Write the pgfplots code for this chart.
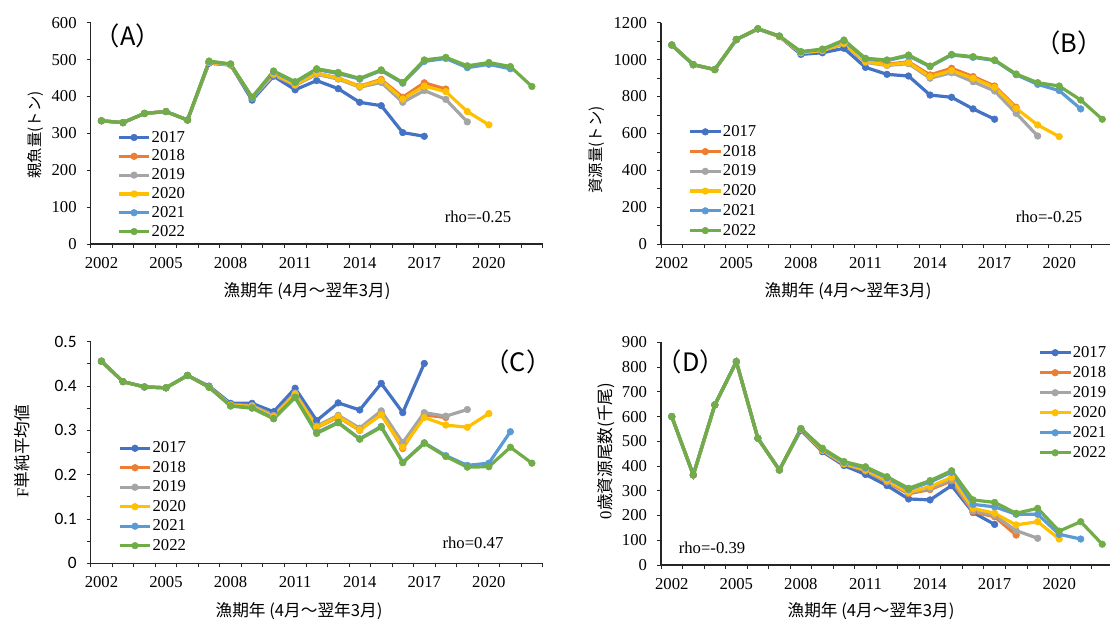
\documentclass[border=0pt]{standalone}
\usepackage{fontspec}
\setmainfont{Liberation Serif}
\newfontfamily\cjk{Noto Sans CJK JP}
\newfontfamily\calib{Carlito}
\usepackage{pgfplots}
\pgfplotsset{compat=1.18}

\definecolor{c17}{HTML}{4472C4}
\definecolor{c18}{HTML}{ED7D31}
\definecolor{c19}{HTML}{A5A5A5}
\definecolor{c20}{HTML}{FFC000}
\definecolor{c21}{HTML}{5B9BD5}
\definecolor{c22}{HTML}{70AD47}

\newcommand{\fs}{\fontsize{12.5}{14}\selectfont}
\newcommand{\xlab}{\cjk{漁期年} (4\cjk{月～翌年}3\cjk{月})}

\pgfplotsset{
  panel/.style={
    scale only axis, width=339pt, height=166pt,
    axis lines*=left,
    axis line style={line width=0.8pt, black!85},
    xmin=2001.5, xmax=2022.5,
    xtick={2002,2005,...,2020},
    xticklabels={2002,2005,2008,2011,2014,2017,2020},
    minor xtick={2001.5,2002.5,...,2022.5},
    major x tick style={draw=none},
    tick align=outside,
    tick style={line width=0.6pt, black!85},
    major tick length=3pt, minor tick length=3pt,
    ticklabel style={font=\fs},
    xticklabel style={yshift=-3.5pt},
    yticklabel style={xshift=-4pt},
    /pgf/number format/assume math mode=true,
    /pgf/number format/1000 sep={},
    clip=false,
    legend cell align=left,
    legend style={draw=none, fill=none, font=\fs, inner sep=0pt,
      nodes={inner sep=0.5pt}},
    legend image code/.code={\draw[mark repeat=2,mark phase=2,##1]
      plot coordinates {(0pt,0pt) (11.5pt,0pt) (23pt,0pt)};},
    cycle list={{c17},{c18},{c19},{c20},{c21},{c22}},
    every axis plot/.append style={line width=2.4pt, mark=*, mark size=2.5pt,
      mark options={solid, line width=0.4pt}},
  }
}

\begin{document}
\begin{tikzpicture}[x=0.75pt,y=0.75pt]
\path[use as bounding box] (0,0) rectangle (1110,620);
\clip (0,0) rectangle (1110,620);

% (A) spawning stock
\begin{axis}[panel, at={(68pt,282pt)}, anchor=south west,
  ymin=0, ymax=600, ytick={0,100,...,600},
  legend style={at={(0.058,0.515)}, anchor=north west, row sep=3.3pt}]
\addplot coordinates {(2002,334)(2003,329)(2004,354)(2005,359)(2006,336)(2007,490)(2008,485)(2009,390)(2010,455)(2011,418)(2012,443)(2013,421)(2014,384)(2015,375)(2016,302)(2017,292)};
\addplot coordinates {(2002,334)(2003,329)(2004,354)(2005,359)(2006,336)(2007,492)(2008,486)(2009,396)(2010,460)(2011,432)(2012,463)(2013,450)(2014,428)(2015,446)(2016,398)(2017,437)(2018,420)};
\addplot coordinates {(2002,334)(2003,329)(2004,354)(2005,359)(2006,336)(2007,492)(2008,486)(2009,395)(2010,458)(2011,430)(2012,460)(2013,447)(2014,425)(2015,438)(2016,384)(2017,416)(2018,392)(2019,331)};
\addplot coordinates {(2002,334)(2003,329)(2004,354)(2005,359)(2006,336)(2007,492)(2008,486)(2009,398)(2010,462)(2011,432)(2012,463)(2013,449)(2014,427)(2015,443)(2016,393)(2017,428)(2018,413)(2019,359)(2020,323)};
\addplot coordinates {(2002,334)(2003,329)(2004,354)(2005,359)(2006,336)(2007,494)(2008,488)(2009,396)(2010,467)(2011,438)(2012,473)(2013,462)(2014,447)(2015,470)(2016,436)(2017,495)(2018,503)(2019,478)(2020,487)(2021,475)};
\addplot coordinates {(2002,334)(2003,329)(2004,354)(2005,359)(2006,336)(2007,496)(2008,488)(2009,398)(2010,469)(2011,440)(2012,475)(2013,465)(2014,449)(2015,472)(2016,438)(2017,499)(2018,506)(2019,483)(2020,492)(2021,481)(2022,427)};
\legend{2017,2018,2019,2020,2021,2022}
\end{axis}

% (B) stock biomass
\begin{axis}[panel, at={(495.75pt,281.8pt)}, anchor=south west, height=166.2pt,
  ymin=0, ymax=1200, ytick={0,200,...,1200}, minor ytick={100,300,...,1100},
  legend style={at={(0.060,0.541)}, anchor=north west, row sep=4pt}]
\addplot coordinates {(2002,1079)(2003,972)(2004,946)(2005,1108)(2006,1166)(2007,1125)(2008,1028)(2009,1037)(2010,1061)(2011,958)(2012,920)(2013,911)(2014,808)(2015,796)(2016,733)(2017,677)};
\addplot coordinates {(2002,1079)(2003,972)(2004,946)(2005,1108)(2006,1166)(2007,1125)(2008,1038)(2009,1050)(2010,1090)(2011,992)(2012,975)(2013,988)(2014,917)(2015,953)(2016,908)(2017,857)(2018,742)};
\addplot coordinates {(2002,1079)(2003,972)(2004,946)(2005,1108)(2006,1166)(2007,1125)(2008,1036)(2009,1048)(2010,1085)(2011,985)(2012,968)(2013,978)(2014,899)(2015,929)(2016,880)(2017,830)(2018,709)(2019,586)};
\addplot coordinates {(2002,1079)(2003,972)(2004,946)(2005,1108)(2006,1166)(2007,1125)(2008,1038)(2009,1050)(2010,1088)(2011,989)(2012,971)(2013,983)(2014,908)(2015,940)(2016,899)(2017,850)(2018,736)(2019,646)(2020,583)};
\addplot coordinates {(2002,1079)(2003,972)(2004,946)(2005,1108)(2006,1166)(2007,1127)(2008,1042)(2009,1055)(2010,1102)(2011,1004)(2012,995)(2013,1020)(2014,962)(2015,1025)(2016,1012)(2017,995)(2018,918)(2019,866)(2020,832)(2021,733)};
\addplot coordinates {(2002,1079)(2003,974)(2004,946)(2005,1110)(2006,1168)(2007,1128)(2008,1043)(2009,1057)(2010,1106)(2011,1007)(2012,998)(2013,1025)(2014,965)(2015,1028)(2016,1016)(2017,998)(2018,922)(2019,875)(2020,857)(2021,781)(2022,677)};
\legend{2017,2018,2019,2020,2021,2022}
\end{axis}

% (C) mean F
\begin{axis}[panel, at={(68pt,42.5pt)}, anchor=south west, height=166.2pt,
  ymin=0, ymax=0.5, ytick={0,0.1,0.2,0.3,0.4,0.5},
  yticklabels={0,0.1,0.2,0.3,0.4,0.5},
  minor ytick={0.05,0.15,0.25,0.35,0.45},
  yticklabel style={font=\calib\fontsize{13}{14}\selectfont},
  legend style={at={(0.060,0.553)}, anchor=north west, row sep=3.8pt}]
\addplot coordinates {(2002,0.456)(2003,0.410)(2004,0.398)(2005,0.396)(2006,0.424)(2007,0.400)(2008,0.361)(2009,0.361)(2010,0.342)(2011,0.395)(2012,0.322)(2013,0.362)(2014,0.346)(2015,0.406)(2016,0.340)(2017,0.451)};
\addplot coordinates {(2002,0.456)(2003,0.410)(2004,0.398)(2005,0.396)(2006,0.424)(2007,0.398)(2008,0.357)(2009,0.355)(2010,0.333)(2011,0.382)(2012,0.306)(2013,0.330)(2014,0.300)(2015,0.338)(2016,0.259)(2017,0.335)(2018,0.329)};
\addplot coordinates {(2002,0.456)(2003,0.410)(2004,0.398)(2005,0.396)(2006,0.424)(2007,0.398)(2008,0.358)(2009,0.356)(2010,0.334)(2011,0.384)(2012,0.310)(2013,0.334)(2014,0.305)(2015,0.344)(2016,0.272)(2017,0.340)(2018,0.332)(2019,0.347)};
\addplot coordinates {(2002,0.456)(2003,0.410)(2004,0.398)(2005,0.396)(2006,0.424)(2007,0.398)(2008,0.357)(2009,0.354)(2010,0.331)(2011,0.382)(2012,0.307)(2013,0.331)(2014,0.301)(2015,0.335)(2016,0.262)(2017,0.329)(2018,0.312)(2019,0.307)(2020,0.338)};
\addplot coordinates {(2002,0.456)(2003,0.410)(2004,0.398)(2005,0.396)(2006,0.424)(2007,0.398)(2008,0.355)(2009,0.351)(2010,0.327)(2011,0.375)(2012,0.295)(2013,0.318)(2014,0.281)(2015,0.309)(2016,0.228)(2017,0.272)(2018,0.243)(2019,0.221)(2020,0.226)(2021,0.297)};
\addplot coordinates {(2002,0.456)(2003,0.410)(2004,0.398)(2005,0.396)(2006,0.424)(2007,0.397)(2008,0.355)(2009,0.350)(2010,0.326)(2011,0.374)(2012,0.293)(2013,0.317)(2014,0.280)(2015,0.307)(2016,0.227)(2017,0.271)(2018,0.241)(2019,0.217)(2020,0.218)(2021,0.262)(2022,0.226)};
\legend{2017,2018,2019,2020,2021,2022}
\end{axis}

% (D) age-0 abundance
\begin{axis}[panel, at={(495.75pt,41.25pt)}, anchor=south west, height=167pt,
  ymin=0, ymax=900, ytick={0,100,...,900},
  legend style={at={(0.834,0.987)}, anchor=north west, row sep=4.2pt}]
\addplot coordinates {(2002,600)(2003,364)(2004,647)(2005,822)(2006,512)(2007,384)(2008,545)(2009,458)(2010,402)(2011,366)(2012,321)(2013,267)(2014,263)(2015,321)(2016,212)(2017,164)};
\addplot coordinates {(2002,600)(2003,364)(2004,647)(2005,822)(2006,512)(2007,384)(2008,548)(2009,462)(2010,408)(2011,380)(2012,335)(2013,288)(2014,305)(2015,340)(2016,215)(2017,195)(2018,121)};
\addplot coordinates {(2002,600)(2003,364)(2004,647)(2005,822)(2006,512)(2007,384)(2008,548)(2009,463)(2010,408)(2011,382)(2012,337)(2013,292)(2014,310)(2015,345)(2016,220)(2017,200)(2018,139)(2019,108)};
\addplot coordinates {(2002,600)(2003,364)(2004,647)(2005,822)(2006,512)(2007,384)(2008,549)(2009,465)(2010,410)(2011,385)(2012,342)(2013,294)(2014,317)(2015,354)(2016,229)(2017,209)(2018,162)(2019,175)(2020,105)};
\addplot coordinates {(2002,600)(2003,364)(2004,647)(2005,822)(2006,512)(2007,384)(2008,550)(2009,468)(2010,415)(2011,392)(2012,352)(2013,305)(2014,335)(2015,375)(2016,245)(2017,235)(2018,205)(2019,205)(2020,124)(2021,105)};
\addplot coordinates {(2002,600)(2003,364)(2004,647)(2005,822)(2006,512)(2007,384)(2008,552)(2009,472)(2010,418)(2011,397)(2012,357)(2013,310)(2014,341)(2015,381)(2016,263)(2017,253)(2018,209)(2019,229)(2020,137)(2021,175)(2022,84)};
\legend{2017,2018,2019,2020,2021,2022}
\end{axis}

% panel tags, rho and axis titles
\node[font=\fontsize{19}{20}\selectfont] at (128,584) {\cjk{（}A\cjk{）}};
\node[font=\fontsize{19}{20}\selectfont] at (1069,577) {\cjk{（}B\cjk{）}};
\node[font=\fontsize{19}{20}\selectfont] at (518,258) {\cjk{（}C\cjk{）}};
\node[font=\fontsize{19}{20}\selectfont] at (691,258) {\cjk{（}D\cjk{）}};
\node[font=\fs] at (478,403) {rho=-0.25};
\node[font=\fs] at (1049,403) {rho=-0.25};
\node[font=\fs] at (473,77) {rho=0.47};
\node[font=\fs] at (712,72) {rho=-0.39};
\node[font=\fs] at (307,329) {\xlab};
\node[font=\fs] at (848,329) {\xlab};
\node[font=\fs] at (299,8.5) {\xlab};
\node[font=\fs] at (871,8.5) {\xlab};
\node[font=\fontsize{11.5}{13}\selectfont, rotate=90] at (36,485) {\cjk{親魚量(トン)}};
\node[font=\fontsize{11.5}{13}\selectfont, rotate=90] at (597,470) {\cjk{資源量(トン)}};
\node[font=\fs, rotate=90] at (22,169) {F\cjk{単純平均値}};
\node[font=\fs, rotate=90] at (606,169) {0\cjk{歳資源尾数(千尾)}};
\end{tikzpicture}
\end{document}
